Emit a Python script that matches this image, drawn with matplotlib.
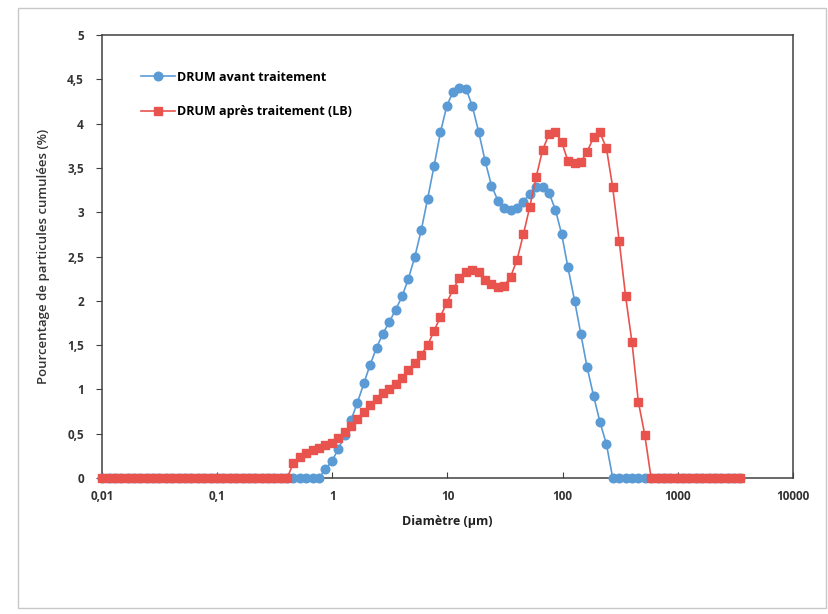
import matplotlib.pyplot as plt
from matplotlib.patches import Rectangle

# size classes (µm)
diametre = [0.0100, 0.0114, 0.0129, 0.0147, 0.0167, 0.0189, 0.0215, 0.0244, 0.0278, 0.0315,
            0.0358, 0.0407, 0.0463, 0.0526, 0.0597, 0.0679, 0.0771, 0.0876, 0.0995, 0.113,
            0.128, 0.146, 0.166, 0.188, 0.214, 0.243, 0.276, 0.314, 0.357, 0.405,
            0.460, 0.523, 0.594, 0.675, 0.767, 0.872, 0.991, 1.13, 1.28, 1.45,
            1.65, 1.88, 2.13, 2.42, 2.75, 3.12, 3.55, 4.03, 4.58, 5.21,
            5.92, 6.72, 7.64, 8.68, 9.86, 11.2, 12.7, 14.5, 16.4, 18.7,
            21.2, 24.1, 27.4, 31.1, 35.3, 40.1, 45.6, 51.8, 58.9, 66.9,
            76.0, 86.4, 98.1, 111, 127, 144, 163, 186, 211, 240,
            272, 310, 352, 400, 454, 516, 586, 666, 756, 859,
            976, 1110, 1260, 1430, 1630, 1850, 2100, 2390, 2710, 3080, 3500]

avant = [0] * 35 + [
    0.10, 0.19, 0.33, 0.48, 0.65, 0.85, 1.07, 1.28, 1.47, 1.63,
    1.76, 1.90, 2.05, 2.25, 2.50, 2.80, 3.15, 3.52, 3.90, 4.20,
    4.36, 4.40, 4.39, 4.20, 3.90, 3.58, 3.30, 3.13, 3.05, 3.03,
    3.05, 3.12, 3.21, 3.28, 3.29, 3.22, 3.03, 2.75, 2.38, 2.00,
    1.62, 1.25, 0.92, 0.63, 0.38] + [0] * 21

apres = [0] * 30 + [
    0.17, 0.24, 0.28, 0.32, 0.34, 0.37, 0.40, 0.45, 0.52, 0.59,
    0.67, 0.75, 0.82, 0.89, 0.96, 1.01, 1.06, 1.13, 1.22, 1.30,
    1.39, 1.50, 1.66, 1.82, 1.98, 2.13, 2.26, 2.33, 2.35, 2.32,
    2.24, 2.19, 2.16, 2.17, 2.27, 2.46, 2.75, 3.06, 3.40, 3.70,
    3.88, 3.91, 3.79, 3.58, 3.56, 3.57, 3.68, 3.85, 3.90, 3.72,
    3.28, 2.67, 2.05, 1.53, 0.86, 0.49] + [0] * 15

xticks = [0.01, 0.1, 1, 10, 100, 1000, 10000]
xlabels = ['0,01', '0,1', '1', '10', '100', '1000', '10000']
yticks = [0, 0.5, 1, 1.5, 2, 2.5, 3, 3.5, 4, 4.5, 5]
ylabels = ['0', '0,5', '1', '1,5', '2', '2,5', '3', '3,5', '4', '4,5', '5']

bleu = '#5b9bd5'
rouge = '#e8534d'
gris = '#404040'

plt.rcParams['font.family'] = ['Open Sans', 'DejaVu Sans']

fig = plt.figure(figsize=(8.29, 6.14), dpi=100)
fig.patches.append(Rectangle((18 / 829, 6 / 614), 808 / 829, 600 / 614,
                             transform=fig.transFigure, fill=False,
                             edgecolor='#c8c8c8', linewidth=1))

ax = fig.add_axes([102 / 829, 1 - 478 / 614, 691 / 829, 443 / 614])
ax.plot(diametre, avant, color=bleu, marker='o', markersize=6.2, linewidth=1.2,
        label='DRUM avant traitement', clip_on=False, zorder=3)
ax.plot(diametre, apres, color=rouge, marker='s', markersize=6.2, linewidth=1.2,
        label='DRUM après traitement (LB)', clip_on=False, zorder=4)

ax.set_xscale('log')
ax.set_xlim(0.01, 10000)
ax.set_ylim(0, 5)
ax.set_xticks(xticks)
ax.set_xticklabels(xlabels)
ax.minorticks_off()
ax.set_yticks(yticks)
ax.set_yticklabels(ylabels)
ax.tick_params(axis='x', direction='in', length=4, color=gris, labelsize=8.5,
               labelcolor='#333333', pad=9)
ax.tick_params(axis='y', direction='out', length=4, color=gris, labelsize=8.5,
               labelcolor='#333333', pad=9)
for lab in ax.get_xticklabels() + ax.get_yticklabels():
    lab.set_fontweight('bold')
for sp in ax.spines.values():
    sp.set_color(gris)
    sp.set_linewidth(1.1)

ax.set_xlabel('Diamètre (µm)', fontsize=9, fontweight='bold', color='#222222', labelpad=8)
ax.set_ylabel('Pourcentage de particules cumulées (%)', fontsize=9.5,
              fontweight='semibold', color='#333333', labelpad=12)

ax.legend(loc='upper left', bbox_to_anchor=(0.04, 0.945), frameon=False,
          handlelength=2.7, labelspacing=1.75, handletextpad=0.2,
          prop={'weight': 'bold', 'size': 9})

fig.savefig('out.png', dpi=100)
